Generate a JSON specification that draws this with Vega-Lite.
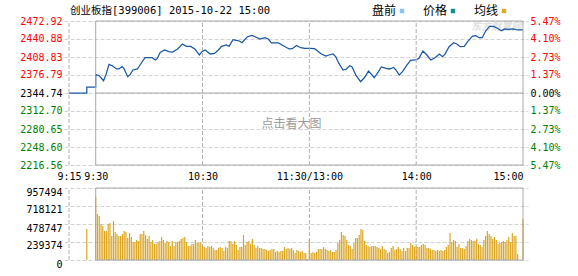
{
  "$schema": "https://vega.github.io/schema/vega-lite/v6.json",
  "width": 464,
  "height": 239,
  "autosize": {"type": "none"},
  "padding": {"left": 64, "top": 21, "right": 50, "bottom": 16},
  "background": "white",
  "title": {
    "text": "创业板指[399006] 2015-10-22 15:00",
    "anchor": "start",
    "frame": "group",
    "orient": "top",
    "dx": 6,
    "offset": -21,
    "baseline": "bottom",
    "font": "DejaVu Sans Mono, Noto Sans CJK SC",
    "fontSize": 10.5,
    "fontWeight": "normal",
    "color": "#000000"
  },
  "config": {
    "view": {"stroke": null},
    "axis": {
      "domain": false,
      "ticks": false,
      "labelFont": "DejaVu Sans Mono",
      "labelFontSize": 10,
      "labelColor": "#000000",
      "labelOverlap": false,
      "labelFlush": false,
      "gridColor": "#d2d2d2",
      "gridDash": [4, 2],
      "gridWidth": 1
    }
  },
  "datasets": {
    "price": [
      {"i": 0, "m": 0, "p": 2344.74},
      {"i": 1, "m": 10, "p": 2344.74},
      {"i": 2, "m": 10, "p": 2355.4},
      {"i": 3, "m": 15, "p": 2355.4},
      {"i": 4, "m": 15, "p": 2377.9},
      {"i": 5, "m": 17.0, "p": 2375.5},
      {"i": 6, "m": 19.4, "p": 2366.6},
      {"i": 7, "m": 20.7, "p": 2376.8},
      {"i": 8, "m": 22.5, "p": 2395.7},
      {"i": 9, "m": 24.3, "p": 2393.3},
      {"i": 10, "m": 26.7, "p": 2387.5},
      {"i": 11, "m": 28.0, "p": 2387.5},
      {"i": 12, "m": 29.8, "p": 2391.6},
      {"i": 13, "m": 30.8, "p": 2388.5},
      {"i": 14, "m": 33.0, "p": 2373.8},
      {"i": 15, "m": 34.4, "p": 2377.9},
      {"i": 16, "m": 35.9, "p": 2385.7},
      {"i": 17, "m": 38.4, "p": 2387.5},
      {"i": 18, "m": 39.9, "p": 2394.6},
      {"i": 19, "m": 42.7, "p": 2407.6},
      {"i": 20, "m": 46.8, "p": 2407.6},
      {"i": 21, "m": 48.5, "p": 2403.5},
      {"i": 22, "m": 49.6, "p": 2406.3},
      {"i": 23, "m": 51.2, "p": 2417.0},
      {"i": 24, "m": 53.7, "p": 2421.3},
      {"i": 25, "m": 56.0, "p": 2418.3},
      {"i": 26, "m": 58.2, "p": 2417.7},
      {"i": 27, "m": 61.0, "p": 2423.1},
      {"i": 28, "m": 63.7, "p": 2432.0},
      {"i": 29, "m": 65.9, "p": 2427.7},
      {"i": 30, "m": 68.3, "p": 2427.7},
      {"i": 31, "m": 70.7, "p": 2423.1},
      {"i": 32, "m": 73.2, "p": 2412.4},
      {"i": 33, "m": 74.7, "p": 2418.3},
      {"i": 34, "m": 76.5, "p": 2421.3},
      {"i": 35, "m": 79.3, "p": 2414.2},
      {"i": 36, "m": 81.7, "p": 2415.2},
      {"i": 37, "m": 83.9, "p": 2421.3},
      {"i": 38, "m": 85.7, "p": 2427.7},
      {"i": 39, "m": 88.4, "p": 2430.2},
      {"i": 40, "m": 89.9, "p": 2427.7},
      {"i": 41, "m": 92.1, "p": 2439.6},
      {"i": 42, "m": 93.9, "p": 2438.4},
      {"i": 43, "m": 95.7, "p": 2437.3},
      {"i": 44, "m": 97.2, "p": 2434.3},
      {"i": 45, "m": 98.5, "p": 2439.1},
      {"i": 46, "m": 100.3, "p": 2445.0},
      {"i": 47, "m": 102.7, "p": 2447.3},
      {"i": 48, "m": 104.9, "p": 2444.4},
      {"i": 49, "m": 107.3, "p": 2440.9},
      {"i": 50, "m": 110.0, "p": 2443.2},
      {"i": 51, "m": 111.9, "p": 2440.9},
      {"i": 52, "m": 113.7, "p": 2433.8},
      {"i": 53, "m": 117.7, "p": 2433.8},
      {"i": 54, "m": 119.6, "p": 2430.2},
      {"i": 55, "m": 121.4, "p": 2427.2},
      {"i": 56, "m": 123.6, "p": 2423.1},
      {"i": 57, "m": 125.4, "p": 2423.6},
      {"i": 58, "m": 127.8, "p": 2429.5},
      {"i": 59, "m": 130.2, "p": 2425.4},
      {"i": 60, "m": 132.4, "p": 2424.1},
      {"i": 61, "m": 135.1, "p": 2424.1},
      {"i": 62, "m": 137.9, "p": 2423.6},
      {"i": 63, "m": 139.7, "p": 2419.5},
      {"i": 64, "m": 141.5, "p": 2414.7},
      {"i": 65, "m": 144.3, "p": 2410.6},
      {"i": 66, "m": 146.1, "p": 2412.4},
      {"i": 67, "m": 148.3, "p": 2414.2},
      {"i": 68, "m": 149.8, "p": 2409.4},
      {"i": 69, "m": 151.6, "p": 2397.4},
      {"i": 70, "m": 153.9, "p": 2385.7},
      {"i": 71, "m": 155.8, "p": 2387.5},
      {"i": 72, "m": 157.6, "p": 2393.3},
      {"i": 73, "m": 158.9, "p": 2391.6},
      {"i": 74, "m": 161.3, "p": 2375.5},
      {"i": 75, "m": 163.8, "p": 2364.9},
      {"i": 76, "m": 166.2, "p": 2373.2},
      {"i": 77, "m": 168.2, "p": 2383.9},
      {"i": 78, "m": 170.2, "p": 2377.0},
      {"i": 79, "m": 171.4, "p": 2372.0},
      {"i": 80, "m": 173.2, "p": 2379.6},
      {"i": 81, "m": 175.4, "p": 2391.0},
      {"i": 82, "m": 178.1, "p": 2388.5},
      {"i": 83, "m": 180.0, "p": 2387.5},
      {"i": 84, "m": 182.3, "p": 2390.3},
      {"i": 85, "m": 183.6, "p": 2385.7},
      {"i": 86, "m": 185.5, "p": 2376.8},
      {"i": 87, "m": 187.3, "p": 2382.7},
      {"i": 88, "m": 189.6, "p": 2393.3},
      {"i": 89, "m": 191.8, "p": 2402.8},
      {"i": 90, "m": 194.6, "p": 2403.5},
      {"i": 91, "m": 196.5, "p": 2406.3},
      {"i": 92, "m": 198.8, "p": 2419.5},
      {"i": 93, "m": 201.0, "p": 2412.4},
      {"i": 94, "m": 203.2, "p": 2403.5},
      {"i": 95, "m": 205.6, "p": 2407.6},
      {"i": 96, "m": 208.0, "p": 2414.2},
      {"i": 97, "m": 209.8, "p": 2409.4},
      {"i": 98, "m": 211.1, "p": 2413.5},
      {"i": 99, "m": 213.5, "p": 2427.2},
      {"i": 100, "m": 216.0, "p": 2434.3},
      {"i": 101, "m": 217.9, "p": 2432.0},
      {"i": 102, "m": 219.7, "p": 2427.2},
      {"i": 103, "m": 222.0, "p": 2427.7},
      {"i": 104, "m": 223.9, "p": 2436.1},
      {"i": 105, "m": 226.7, "p": 2446.2},
      {"i": 106, "m": 228.5, "p": 2446.7},
      {"i": 107, "m": 230.3, "p": 2443.2},
      {"i": 108, "m": 232.1, "p": 2443.2},
      {"i": 109, "m": 234.0, "p": 2455.1},
      {"i": 110, "m": 236.2, "p": 2463.3},
      {"i": 111, "m": 238.5, "p": 2463.3},
      {"i": 112, "m": 240.9, "p": 2459.7},
      {"i": 113, "m": 242.8, "p": 2455.7},
      {"i": 114, "m": 244.9, "p": 2458.7},
      {"i": 115, "m": 246.8, "p": 2458.0},
      {"i": 116, "m": 249.5, "p": 2458.7},
      {"i": 117, "m": 251.9, "p": 2456.9},
      {"i": 118, "m": 255, "p": 2456.9}
    ],
    "vol": [
      {"m": 10, "v": 412000},
      {"m": 15, "v": 838000}, {"m": 16, "v": 612000}, {"m": 17, "v": 585000}, {"m": 18, "v": 479000},
      {"m": 19, "v": 452000}, {"m": 20, "v": 386000}, {"m": 21, "v": 386000}, {"m": 22, "v": 479000},
      {"m": 23, "v": 492000}, {"m": 24, "v": 319000}, {"m": 25, "v": 519000}, {"m": 26, "v": 372000},
      {"m": 27, "v": 346000}, {"m": 28, "v": 319000}, {"m": 29, "v": 319000}, {"m": 30, "v": 346000},
      {"m": 31, "v": 386000}, {"m": 32, "v": 372000}, {"m": 33, "v": 293000}, {"m": 34, "v": 359000},
      {"m": 35, "v": 306000}, {"m": 36, "v": 239000}, {"m": 37, "v": 239000}, {"m": 38, "v": 266000},
      {"m": 39, "v": 253000}, {"m": 40, "v": 346000}, {"m": 41, "v": 346000}, {"m": 42, "v": 386000},
      {"m": 43, "v": 332000}, {"m": 44, "v": 279000}, {"m": 45, "v": 319000}, {"m": 46, "v": 239000},
      {"m": 47, "v": 266000}, {"m": 48, "v": 213000}, {"m": 49, "v": 213000}, {"m": 50, "v": 239000},
      {"m": 51, "v": 253000}, {"m": 52, "v": 306000}, {"m": 53, "v": 266000}, {"m": 54, "v": 226000},
      {"m": 55, "v": 253000}, {"m": 56, "v": 239000}, {"m": 57, "v": 186000}, {"m": 58, "v": 253000},
      {"m": 59, "v": 186000}, {"m": 60, "v": 239000}, {"m": 61, "v": 239000}, {"m": 62, "v": 253000},
      {"m": 63, "v": 279000}, {"m": 64, "v": 293000}, {"m": 65, "v": 306000}, {"m": 66, "v": 239000},
      {"m": 67, "v": 186000}, {"m": 68, "v": 186000}, {"m": 69, "v": 213000}, {"m": 70, "v": 213000},
      {"m": 71, "v": 266000}, {"m": 72, "v": 226000}, {"m": 73, "v": 226000}, {"m": 74, "v": 239000},
      {"m": 75, "v": 186000}, {"m": 76, "v": 173000}, {"m": 77, "v": 160000}, {"m": 78, "v": 186000},
      {"m": 79, "v": 173000}, {"m": 80, "v": 186000}, {"m": 81, "v": 160000}, {"m": 82, "v": 133000},
      {"m": 83, "v": 133000}, {"m": 84, "v": 160000}, {"m": 85, "v": 173000}, {"m": 86, "v": 160000},
      {"m": 87, "v": 120000}, {"m": 88, "v": 173000}, {"m": 89, "v": 160000}, {"m": 90, "v": 253000},
      {"m": 91, "v": 253000}, {"m": 92, "v": 213000}, {"m": 93, "v": 253000},
      {"m": 94, "v": 199000}, {"m": 95, "v": 133000}, {"m": 96, "v": 173000}, {"m": 97, "v": 173000},
      {"m": 98, "v": 332000}, {"m": 99, "v": 199000}, {"m": 100, "v": 239000}, {"m": 101, "v": 253000},
      {"m": 102, "v": 213000}, {"m": 103, "v": 279000}, {"m": 104, "v": 199000}, {"m": 105, "v": 160000},
      {"m": 106, "v": 186000}, {"m": 107, "v": 160000}, {"m": 108, "v": 160000}, {"m": 109, "v": 146000},
      {"m": 110, "v": 146000}, {"m": 111, "v": 133000}, {"m": 112, "v": 120000}, {"m": 113, "v": 133000},
      {"m": 114, "v": 146000}, {"m": 115, "v": 146000}, {"m": 116, "v": 106000}, {"m": 117, "v": 120000},
      {"m": 118, "v": 106000}, {"m": 119, "v": 120000}, {"m": 120, "v": 120000}, {"m": 121, "v": 173000},
      {"m": 122, "v": 146000}, {"m": 123, "v": 160000}, {"m": 124, "v": 146000}, {"m": 125, "v": 160000},
      {"m": 126, "v": 133000}, {"m": 127, "v": 93000}, {"m": 128, "v": 133000}, {"m": 129, "v": 120000},
      {"m": 130, "v": 106000}, {"m": 131, "v": 120000}, {"m": 132, "v": 93000}, {"m": 133, "v": 93000},
      {"m": 134, "v": 13000}, {"m": 135, "v": 266000}, {"m": 136, "v": 93000}, {"m": 137, "v": 106000},
      {"m": 138, "v": 93000}, {"m": 139, "v": 106000}, {"m": 140, "v": 146000}, {"m": 141, "v": 146000},
      {"m": 142, "v": 146000}, {"m": 143, "v": 173000}, {"m": 144, "v": 146000}, {"m": 145, "v": 133000},
      {"m": 146, "v": 120000}, {"m": 147, "v": 133000}, {"m": 148, "v": 106000}, {"m": 149, "v": 106000},
      {"m": 150, "v": 133000}, {"m": 151, "v": 226000}, {"m": 152, "v": 266000}, {"m": 153, "v": 372000},
      {"m": 154, "v": 332000}, {"m": 155, "v": 319000}, {"m": 156, "v": 266000}, {"m": 157, "v": 199000},
      {"m": 158, "v": 186000}, {"m": 159, "v": 146000}, {"m": 160, "v": 226000}, {"m": 161, "v": 293000},
      {"m": 162, "v": 293000}, {"m": 163, "v": 332000}, {"m": 164, "v": 412000}, {"m": 165, "v": 399000},
      {"m": 166, "v": 253000}, {"m": 167, "v": 199000}, {"m": 168, "v": 186000}, {"m": 169, "v": 173000},
      {"m": 170, "v": 186000}, {"m": 171, "v": 186000}, {"m": 172, "v": 186000}, {"m": 173, "v": 173000},
      {"m": 174, "v": 160000},
      {"m": 175, "v": 146000}, {"m": 176, "v": 186000}, {"m": 177, "v": 146000}, {"m": 178, "v": 133000},
      {"m": 179, "v": 93000}, {"m": 180, "v": 106000}, {"m": 181, "v": 160000}, {"m": 182, "v": 186000},
      {"m": 183, "v": 133000}, {"m": 184, "v": 146000}, {"m": 185, "v": 173000}, {"m": 186, "v": 146000},
      {"m": 187, "v": 120000}, {"m": 188, "v": 160000}, {"m": 189, "v": 120000}, {"m": 190, "v": 160000},
      {"m": 191, "v": 160000}, {"m": 192, "v": 226000}, {"m": 193, "v": 199000}, {"m": 194, "v": 173000},
      {"m": 195, "v": 186000}, {"m": 196, "v": 173000}, {"m": 197, "v": 173000}, {"m": 198, "v": 199000},
      {"m": 199, "v": 213000}, {"m": 200, "v": 199000}, {"m": 201, "v": 160000}, {"m": 202, "v": 160000},
      {"m": 203, "v": 146000}, {"m": 204, "v": 133000}, {"m": 205, "v": 133000}, {"m": 206, "v": 120000},
      {"m": 207, "v": 133000}, {"m": 208, "v": 120000}, {"m": 209, "v": 133000}, {"m": 210, "v": 120000},
      {"m": 211, "v": 133000}, {"m": 212, "v": 173000}, {"m": 213, "v": 199000}, {"m": 214, "v": 359000},
      {"m": 215, "v": 239000}, {"m": 216, "v": 266000}, {"m": 217, "v": 253000}, {"m": 218, "v": 173000},
      {"m": 219, "v": 213000}, {"m": 220, "v": 160000}, {"m": 221, "v": 160000}, {"m": 222, "v": 146000},
      {"m": 223, "v": 186000}, {"m": 224, "v": 253000}, {"m": 225, "v": 279000}, {"m": 226, "v": 266000},
      {"m": 227, "v": 253000}, {"m": 228, "v": 253000}, {"m": 229, "v": 279000}, {"m": 230, "v": 213000},
      {"m": 231, "v": 199000}, {"m": 232, "v": 173000}, {"m": 233, "v": 266000}, {"m": 234, "v": 319000},
      {"m": 235, "v": 386000}, {"m": 236, "v": 346000}, {"m": 237, "v": 319000}, {"m": 238, "v": 279000},
      {"m": 239, "v": 306000}, {"m": 240, "v": 266000}, {"m": 241, "v": 213000}, {"m": 242, "v": 226000},
      {"m": 243, "v": 239000}, {"m": 244, "v": 253000}, {"m": 245, "v": 239000}, {"m": 246, "v": 266000},
      {"m": 247, "v": 306000}, {"m": 248, "v": 239000}, {"m": 249, "v": 359000}, {"m": 250, "v": 319000},
      {"m": 251, "v": 319000}, {"m": 252, "v": 80000}, {"m": 255, "v": 545000}
    ],
    "vgrid": [{"m": 0}, {"m": 75}, {"m": 135}, {"m": 195}],
    "keys": [{"k": "盘前"}, {"k": "价格"}, {"k": "均线"}],
    "note": [{"t": "点击看大图"}],
    "mark": [{"t": "东方财富网"}]
  },
  "layer": [
    {
      "data": {"name": "mark"},
      "mark": {"type": "text", "font": "Noto Sans CJK SC", "fontSize": 10, "fontWeight": "bold", "fontStyle": "italic", "color": "#e0e0e0"},
      "encoding": {
        "x": {"datum": 240, "type": "quantitative", "scale": {"domain": [0, 255], "nice": false, "zero": false}},
        "y": {"datum": 2462, "type": "quantitative", "scale": {"domain": [2216.56, 2472.92], "range": [144, 0], "nice": false, "zero": false}, "axis": null},
        "text": {"field": "t"}
      }
    },
    {
      "data": {"name": "price"},
      "mark": {"type": "line", "color": "#1b57a4", "strokeWidth": 1.25},
      "encoding": {
        "x": {
          "field": "m", "type": "quantitative",
          "scale": {"domain": [0, 255], "nice": false, "zero": false},
          "axis": {
            "orient": "bottom",
            "offset": -95,
            "grid": false,
            "title": null,
            "values": [0, 15, 75, 135, 195, 255],
            "labelExpr": "datum.value == 0 ? '9:15' : datum.value == 15 ? '9:30' : datum.value == 75 ? '10:30' : datum.value == 135 ? '11:30/13:00' : datum.value == 195 ? '14:00' : '15:00'",
            "labelAlign": {"expr": "datum.value == 255 ? 'right' : 'center'"},
            "labelPadding": 6
          }
        },
        "y": {
          "field": "p", "type": "quantitative",
          "scale": {"domain": [2216.56, 2472.92], "range": [144, 0], "nice": false, "zero": false},
          "axis": {
            "orient": "left",
            "grid": true,
            "title": null,
            "values": [2216.56, 2248.60, 2280.65, 2312.70, 2344.74, 2376.79, 2408.83, 2440.88, 2472.92],
            "format": ".2f",
            "labelPadding": 2,
            "labelColor": {"expr": "datum.value > 2345 ? '#ff0000' : (datum.value < 2344 ? '#008000' : '#000000')"}
          }
        },
        "order": {"field": "i", "type": "quantitative"}
      }
    },
    {
      "data": {"name": "vgrid"},
      "mark": {"type": "rule", "color": "#b0b0b0", "strokeDash": [4, 2], "strokeWidth": 1},
      "encoding": {
        "x": {"field": "m", "type": "quantitative", "scale": {"domain": [0, 255], "nice": false, "zero": false}},
        "y": {"datum": 2216.56, "type": "quantitative", "scale": {"domain": [2216.56, 2472.92], "range": [144, 0], "nice": false, "zero": false}, "axis": null},
        "y2": {"datum": 2472.92}
      }
    },
    {
      "data": {"name": "vgrid"},
      "mark": {"type": "rule", "color": "#b0b0b0", "strokeDash": [4, 2], "strokeWidth": 1},
      "encoding": {
        "x": {"field": "m", "type": "quantitative", "scale": {"domain": [0, 255], "nice": false, "zero": false}},
        "y": {"datum": 0, "type": "quantitative", "scale": {"domain": [0, 957494], "range": [239, 167], "nice": false, "zero": true}, "axis": null},
        "y2": {"datum": 957494}
      }
    },
    {
      "data": {"name": "vol"},
      "mark": {"type": "bar", "orient": "vertical", "width": 1.2, "color": "#dca51f"},
      "encoding": {
        "x": {"field": "m", "type": "quantitative", "scale": {"domain": [0, 255], "nice": false, "zero": false}},
        "y": {
          "field": "v", "type": "quantitative",
          "scale": {"domain": [0, 957494], "range": [239, 167], "nice": false, "zero": true},
          "axis": {
            "orient": "left",
            "grid": true,
            "title": null,
            "values": [0, 239374, 478747, 718121, 957494],
            "format": "d",
            "labelPadding": 2,
            "labelOffset": 4
          }
        }
      }
    },
    {
      "data": {"values": [{}]},
      "mark": {"type": "rect", "filled": false, "stroke": "#a8a8a8", "strokeWidth": 1},
      "encoding": {
        "x": {"datum": 15, "type": "quantitative", "scale": {"domain": [0, 255], "nice": false, "zero": false}},
        "x2": {"datum": 255},
        "y": {"datum": 0, "type": "quantitative", "scale": {"domain": [0, 957494], "range": [239, 167], "nice": false, "zero": true}, "axis": null},
        "y2": {"datum": 957494}
      }
    },
    {
      "data": {"values": [{}]},
      "mark": {"type": "rect", "filled": false, "stroke": "#a8a8a8", "strokeWidth": 1},
      "encoding": {
        "x": {"datum": 15, "type": "quantitative", "scale": {"domain": [0, 255], "nice": false, "zero": false}},
        "x2": {"datum": 255},
        "y": {"datum": 2216.56, "type": "quantitative", "scale": {"domain": [2216.56, 2472.92], "range": [144, 0], "nice": false, "zero": false}, "axis": null},
        "y2": {"datum": 2472.92}
      }
    },
    {
      "data": {"values": [{}]},
      "mark": {"type": "rule", "color": "#a8a8a8", "strokeWidth": 1},
      "encoding": {
        "x": {"datum": 15, "type": "quantitative", "scale": {"domain": [0, 255], "nice": false, "zero": false}},
        "x2": {"datum": 255},
        "y": {
          "datum": 2344.74, "type": "quantitative",
          "scale": {"domain": [2216.56, 2472.92], "range": [144, 0], "nice": false, "zero": false},
          "axis": {
            "orient": "right",
            "grid": false,
            "title": null,
            "values": [2216.56, 2248.60, 2280.65, 2312.70, 2344.74, 2376.79, 2408.83, 2440.88, 2472.92],
            "labelExpr": "format(abs(datum.value - 2344.74) / 2344.74 * 100, '.2f') + '%'",
            "labelPadding": 2,
            "labelColor": {"expr": "datum.value > 2345 ? '#ff0000' : (datum.value < 2344 ? '#008000' : '#000000')"}
          }
        }
      }
    },
    {
      "data": {"name": "note"},
      "mark": {"type": "text", "font": "Noto Sans CJK SC", "fontSize": 12, "color": "#9a9a9a"},
      "encoding": {
        "x": {"datum": 125, "type": "quantitative", "scale": {"domain": [0, 255], "nice": false, "zero": false}},
        "y": {"datum": 2289.5, "type": "quantitative", "scale": {"domain": [2216.56, 2472.92], "range": [144, 0], "nice": false, "zero": false}, "axis": null},
        "text": {"field": "t"}
      }
    },
    {
      "data": {"name": "keys"},
      "mark": {"type": "point", "shape": "square", "filled": true, "opacity": 0},
      "encoding": {
        "color": {
          "field": "k", "type": "nominal",
          "scale": {"domain": ["盘前", "价格", "均线"], "range": ["#8ec5ec", "#14908c", "#e0aa22"]},
          "legend": {
            "orient": "none",
            "legendX": 308,
            "legendY": -16,
            "direction": "horizontal",
            "title": null,
            "symbolType": "square",
            "symbolSize": 20,
            "symbolOpacity": 1,
            "symbolStrokeWidth": 0,
            "symbolOffset": 24,
            "labelOffset": -36,
            "columnPadding": 18,
            "labelFont": "Noto Sans CJK SC",
            "labelFontSize": 12,
            "labelColor": "#000000"
          }
        }
      }
    }
  ],
  "resolve": {"scale": {"y": "independent"}}
}
